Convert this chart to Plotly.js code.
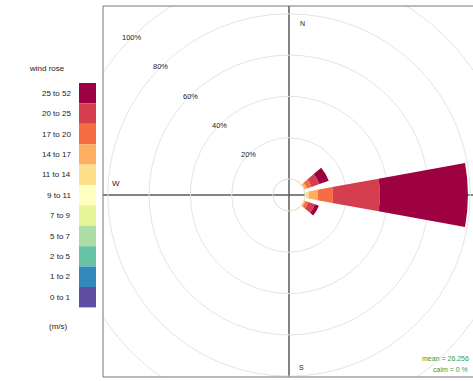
<!DOCTYPE html>
<html><head><meta charset="utf-8">
<script src="https://cdn.plot.ly/plotly-3.0.1.min.js"></script>
<style>
html,body{margin:0;padding:0;overflow:hidden;width:473px;height:381px;background:#fff}
#chart{position:absolute;left:0;top:-60px;width:540px;height:520px}
</style>
</head><body><div id="chart"></div>
<script>
// ---- data ----
const directions = [0, 30, 60, 90, 120, 150, 180, 210, 240, 270, 300, 330];
const speedBins = ['0 to 1','1 to 2','2 to 5','5 to 7','7 to 9','9 to 11','11 to 14','14 to 17','17 to 20','20 to 25','25 to 52'];
const binColors = ['#5E4FA2','#3288BD','#66C2A5','#ABDDA4','#E6F598','#FFFFBF','#FEE08B','#FDAE61','#F46D43','#D53E4F','#9E0142'];
// frequency (%) of each speed bin per direction
const freq_0_1   = [0, 0,   0,   0,    0,   0,   0, 0, 0, 0, 0, 0];
const freq_1_2   = [0, 0,   0,   0,    0,   0,   0, 0, 0, 0, 0, 0];
const freq_2_5   = [0, 0,   0,   0,    0,   0,   0, 0, 0, 0, 0, 0];
const freq_5_7   = [0, 0,   0,   0,    0,   0,   0, 0, 0, 0, 0, 0];
const freq_7_9   = [0, 0,   0,   0,    0,   0,   0, 0, 0, 0, 0, 0];
const freq_9_11  = [0, 0.2, 0,   0.3,  0,   0.2, 0, 0, 0, 0, 0, 0];
const freq_11_14 = [0, 0.3, 0.3, 1.6,  0.2, 0.3, 0, 0, 0, 0, 0, 0];
const freq_14_17 = [0, 0,   1.2, 4.4,  0.6, 0,   0, 0, 0, 0, 0, 0];
const freq_17_20 = [0, 0,   2.4, 7.3,  1.5, 0,   0, 0, 0, 0, 0, 0];
const freq_20_25 = [0, 0,   4.0, 22.7, 3.3, 0,   0, 0, 0, 0, 0, 0];
const freq_25_52 = [0, 0,   4.8, 42.6, 2.0, 0,   0, 0, 0, 0, 0, 0];
const binFreqs = [freq_0_1, freq_1_2, freq_2_5, freq_5_7, freq_7_9, freq_9_11, freq_11_14, freq_14_17, freq_17_20, freq_20_25, freq_25_52];
const radialTicks = [0, 20, 40, 60, 80, 100];
const radialTickText = ['', '20%', '40%', '60%', '80%', '100%'];
const meanSpeed = '26.256';
const calmPct = '0 %';

// ---- layout geometry (screen px) ----
const W = 540, H = 520, T = 60;          // div size and top offset
const CX = 289, CY = 195;                // rose centre on screen
const HOLE_PX = 16, PX_PER_20 = 41.3, RMAX = 110;
const RPX = HOLE_PX + RMAX / 20 * PX_PER_20;
const px = sx => sx / W;
const py = sy => 1 - (sy + T) / H;

const traces = speedBins.map((name, i) => ({
  type: 'barpolar', name: name, r: binFreqs[i], theta: directions,
  width: 20.6, marker: {color: binColors[i], line: {width: 0}},
  showlegend: false, hoverinfo: 'skip'
}));

const FONT = 'Liberation Sans, Arial, sans-serif';
const shapes = [
  // crosshair (below bars)
  {type:'line', layer:'below', xref:'paper', yref:'paper', x0:px(CX), x1:px(CX), y0:py(6), y1:py(377), line:{color:'#5a5a5a', width:1.5}},
  {type:'line', layer:'below', xref:'paper', yref:'paper', x0:px(103), x1:px(540), y0:py(CY), y1:py(CY), line:{color:'#5a5a5a', width:1.5}},
  // inner (0 %) circle
  {type:'circle', layer:'below', xref:'paper', yref:'paper', x0:px(CX-HOLE_PX), x1:px(CX+HOLE_PX), y0:py(CY+HOLE_PX), y1:py(CY-HOLE_PX), line:{color:'#dcdcdc', width:1}},
  // masks outside the panel
  {type:'rect', layer:'above', xref:'paper', yref:'paper', x0:0, x1:px(103), y0:0, y1:1, fillcolor:'#fff', line:{width:0}},
  {type:'rect', layer:'above', xref:'paper', yref:'paper', x0:0, x1:1, y0:py(6), y1:1, fillcolor:'#fff', line:{width:0}},
  {type:'rect', layer:'above', xref:'paper', yref:'paper', x0:0, x1:1, y0:0, y1:py(377), fillcolor:'#fff', line:{width:0}},
  // panel frame
  {type:'rect', layer:'above', xref:'paper', yref:'paper', x0:px(103), x1:px(535), y0:py(377), y1:py(6), line:{color:'#777', width:1}}
];
const annotations = [];
const LTOP = 83, LH = 20.4;
speedBins.slice().reverse().forEach((name, k) => {
  const col = binColors[binColors.length - 1 - k];
  const y0 = LTOP + k * LH, y1 = y0 + LH;
  shapes.push({type:'rect', layer:'above', xref:'paper', yref:'paper', x0:px(79), x1:px(96), y0:py(y1), y1:py(y0), fillcolor:col, line:{width:0}});
  annotations.push({xref:'paper', yref:'paper', x:px(73), y:py((y0+y1)/2), xanchor:'right', yanchor:'middle', text:name, showarrow:false, font:{size:8, color:'#222', family:FONT}});
});
const txt = (sx, sy, t, xa, extra) => Object.assign({xref:'paper', yref:'paper', x:px(sx), y:py(sy), xanchor:xa, yanchor:'middle', text:t, showarrow:false, font:{size:8, color:'#222', family:FONT}}, extra || {});
// radial scale labels along the NW diagonal
radialTicks.forEach((v, i) => {
  if (!radialTickText[i]) return;
  const r = HOLE_PX + v / 20 * PX_PER_20;
  annotations.push(txt(CX - r * Math.SQRT1_2, CY - r * Math.SQRT1_2, radialTickText[i], 'center', {font:{size:7.5, color:'#222', family:FONT}}));
});
annotations.push(txt(47, 68, 'wind rose', 'center'));
annotations.push(txt(58, 326, '(m/s)', 'center'));
annotations.push(txt(302, 23, 'N', 'center', {font:{size:7, color:'#222', family:FONT}}));
annotations.push(txt(301, 367, 'S', 'center', {font:{size:7, color:'#222', family:FONT}}));
annotations.push(txt(116, 183, 'W', 'center', {font:{size:8, color:'#222', family:FONT}}));
annotations.push(txt(471, 358, 'mean = ' + meanSpeed, 'right', {font:{size:7, color:'#3a9a3a', family:FONT}}));
annotations.push(txt(470, 369, 'calm = ' + calmPct, 'right', {font:{size:7, color:'#3a9a3a', family:FONT}}));

const layout = {
  width: W, height: H, margin: {l:0, r:0, t:0, b:0},
  paper_bgcolor: '#fff', showlegend: false,
  font: {family: FONT, size: 8, color: '#222'},
  polar: {
    domain: {x: [px(CX - RPX), px(CX + RPX)], y: [py(CY + RPX), py(CY - RPX)]},
    hole: HOLE_PX / RPX, bgcolor: 'rgba(0,0,0,0)', barmode: 'stack',
    angularaxis: {rotation: 90, direction: 'clockwise', showgrid: false, showline: false, ticks: '', showticklabels: false},
    radialaxis: {range: [0, RMAX], angle: 135, tickvals: radialTicks, ticktext: radialTickText,
      showline: false, ticks: '', showticklabels: false, gridcolor: '#e4e4e4', gridwidth: 1}
  },
  shapes: shapes, annotations: annotations
};
Plotly.newPlot('chart', traces, layout, {staticPlot: true, displayModeBar: false});
</script></body></html>
